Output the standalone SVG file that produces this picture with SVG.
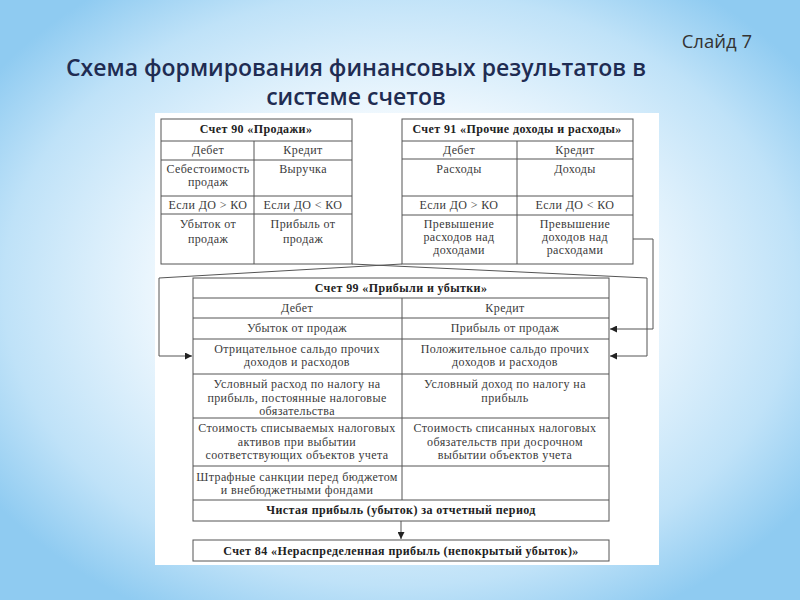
<svg xmlns="http://www.w3.org/2000/svg" width="800" height="600" viewBox="0 0 800 600">
<defs>
<radialGradient id="bg" cx="50%" cy="48%" r="62%">
<stop offset="0" stop-color="#ffffff"/>
<stop offset="0.45" stop-color="#f2f9fe"/>
<stop offset="0.8" stop-color="#bfe2f8"/>
<stop offset="1" stop-color="#8fcbf1"/>
</radialGradient>
<marker id="arr" viewBox="0 0 8 8" refX="8" refY="4" markerWidth="7" markerHeight="7" markerUnits="userSpaceOnUse" orient="auto">
<path d="M0,0 L8,4 L0,8 z" fill="#222"/>
</marker>
<style>
.cell{fill:#fff;stroke:#555;stroke-width:1}
.ln{stroke:#555;stroke-width:1;fill:none}
.t{font-family:"Liberation Serif","Times New Roman",serif;font-size:12px;letter-spacing:0.4px;fill:#3a3a3a;text-anchor:middle}
.b{font-weight:bold;fill:#222}
.con{stroke:#555;stroke-width:1;fill:none}
.h{font-family:"Open Sans","Liberation Sans",sans-serif;font-size:23px;font-weight:600;fill:#1f2c52;text-anchor:middle}
</style>
</defs>
<rect width="800" height="600" fill="url(#bg)"/>
<text x="752" y="48" font-family="'Open Sans','Liberation Sans',sans-serif" font-size="18.5" fill="#333" text-anchor="end">Слайд 7</text>
<text class="h" x="356" y="76">Схема формирования финансовых результатов в</text>
<text class="h" x="356" y="105">системе счетов</text>
<rect x="155" y="113" width="504" height="452" fill="#ffffff"/>

<g id="acc90">
<rect class="cell" x="161" y="119" width="191" height="145"/>
<path class="ln" d="M161,141H352M161,160H352M161,196H352M161,214H352M254,141V264"/>
<text class="t b" x="256" y="133">Счет 90 «Продажи»</text>
<text class="t" x="208" y="154">Дебет</text>
<text class="t" x="303" y="154">Кредит</text>
<text class="t" x="208" y="173">Себестоимость</text>
<text class="t" x="208" y="186">продаж</text>
<text class="t" x="303" y="173">Выручка</text>
<text class="t" x="208" y="209">Если ДО &gt; КО</text>
<text class="t" x="303" y="209">Если ДО &lt; КО</text>
<text class="t" x="208" y="228">Убыток от</text>
<text class="t" x="208" y="243">продаж</text>
<text class="t" x="303" y="228">Прибыль от</text>
<text class="t" x="303" y="243">продаж</text>
</g>

<g id="acc91">
<rect class="cell" x="402" y="119" width="231" height="145"/>
<path class="ln" d="M402,141H633M402,159H633M402,196H633M402,215H633M517,141V264"/>
<text class="t b" x="517" y="133">Счет 91 «Прочие доходы и расходы»</text>
<text class="t" x="459" y="154">Дебет</text>
<text class="t" x="575" y="154">Кредит</text>
<text class="t" x="459" y="173">Расходы</text>
<text class="t" x="575" y="173">Доходы</text>
<text class="t" x="459" y="209">Если ДО &gt; КО</text>
<text class="t" x="575" y="209">Если ДО &lt; КО</text>
<text class="t" x="459" y="228">Превышение</text>
<text class="t" x="459" y="241">расходов над</text>
<text class="t" x="459" y="254">доходами</text>
<text class="t" x="575" y="228">Превышение</text>
<text class="t" x="575" y="241">доходов над</text>
<text class="t" x="575" y="254">расходами</text>
</g>

<g id="acc99">
<rect class="cell" x="193" y="278" width="416" height="243"/>
<path class="ln" d="M193,298H609M193,318H609M193,339H609M193,374H609M193,418H609M193,466H609M193,500H609M402,298V500"/>
<text class="t b" x="401" y="292">Счет 99 «Прибыли и убытки»</text>
<text class="t" x="297" y="312">Дебет</text>
<text class="t" x="505" y="312">Кредит</text>
<text class="t" x="297" y="332">Убыток от продаж</text>
<text class="t" x="505" y="332">Прибыль от продаж</text>
<text class="t" x="297" y="353">Отрицательное сальдо прочих</text>
<text class="t" x="297" y="366">доходов и расходов</text>
<text class="t" x="505" y="353">Положительное сальдо прочих</text>
<text class="t" x="505" y="366">доходов и расходов</text>
<text class="t" x="297" y="388">Условный расход по налогу на</text>
<text class="t" x="297" y="402">прибыль, постоянные налоговые</text>
<text class="t" x="297" y="415">обязательства</text>
<text class="t" x="505" y="388">Условный доход по налогу на</text>
<text class="t" x="505" y="402">прибыль</text>
<text class="t" x="297" y="432">Стоимость списываемых налоговых</text>
<text class="t" x="297" y="446">активов при выбытии</text>
<text class="t" x="297" y="459">соответствующих объектов учета</text>
<text class="t" x="505" y="432">Стоимость списанных налоговых</text>
<text class="t" x="505" y="446">обязательств при досрочном</text>
<text class="t" x="505" y="459">выбытии объектов учета</text>
<text class="t" x="297" y="481">Штрафные санкции перед бюджетом</text>
<text class="t" x="297" y="494">и внебюджетными фондами</text>
<text class="t b" x="401" y="514">Чистая прибыль (убыток) за отчетный период</text>
</g>

<g id="acc84">
<rect class="cell" x="193" y="540" width="416" height="21"/>
<text class="t b" x="401" y="555">Счет 84 «Нераспределенная прибыль (непокрытый убыток)»</text>
</g>

<g id="connectors">
<path class="con" d="M402,264 L159,278 V356 H192" marker-end="url(#arr)"/>
<path class="con" d="M352,264 L647,278 V356 H610" marker-end="url(#arr)"/>
<path class="con" d="M633,239 H653 V329 H610" marker-end="url(#arr)"/>
<path class="con" d="M401,521 V539" marker-end="url(#arr)"/>
</g>
</svg>
